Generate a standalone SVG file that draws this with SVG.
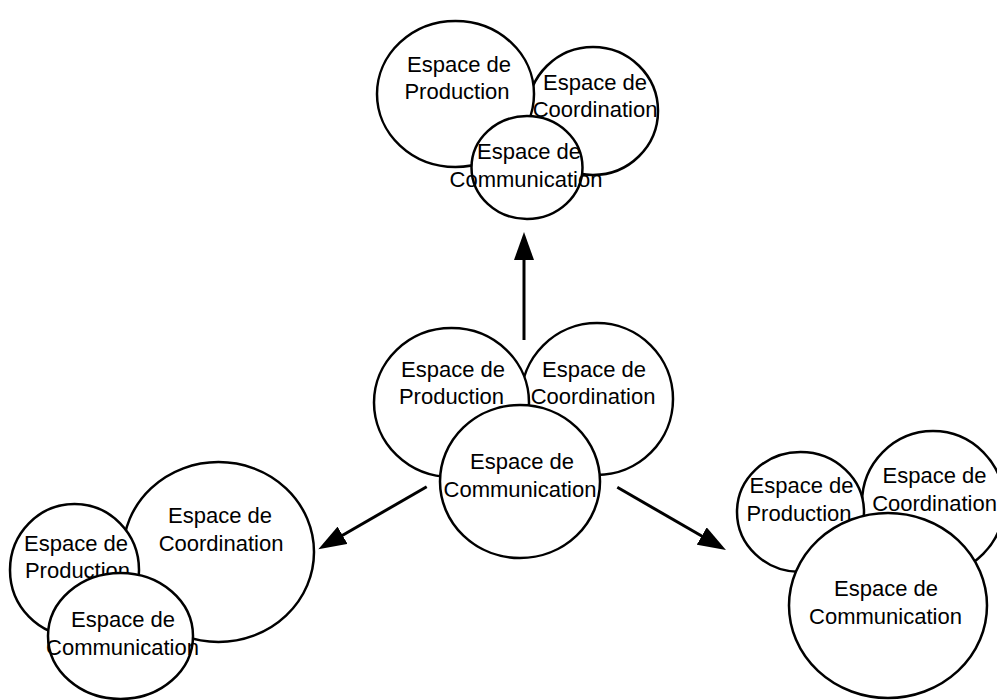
<svg xmlns="http://www.w3.org/2000/svg" width="997" height="700" viewBox="0 0 997 700">
<style>
.c{fill:#fff;stroke:#000;stroke-width:2.5}
text{font-family:"Liberation Sans",Arial,sans-serif;font-size:22px;fill:#000;text-anchor:middle}
.a{stroke:#000;stroke-width:3;fill:none}
</style>
<defs>
<marker id="ah" viewBox="0 0 28 20" refX="18" refY="10" markerWidth="28" markerHeight="20" markerUnits="userSpaceOnUse" orient="auto">
<path d="M0,0 L28,10 L0,20 z" fill="#000"/>
</marker>
</defs>
<rect width="997" height="700" fill="#fff"/>
<g id="connectors">
<line class="a" x1="524" y1="340" x2="524" y2="242" marker-end="url(#ah)"/>
<line class="a" x1="426.7" y1="486.7" x2="327" y2="544.3" marker-end="url(#ah)"/>
<line class="a" x1="617.3" y1="487.3" x2="717.3" y2="545" marker-end="url(#ah)"/>
</g>
<!-- top cluster -->
<g id="top-coordination">
<ellipse class="c" cx="593" cy="111" rx="65" ry="64"/>
<text x="595" y="90">Espace de</text><text x="595" y="117">Coordination</text>
</g>
<g id="top-production">
<ellipse class="c" cx="455.5" cy="94" rx="78.5" ry="73"/>
<text x="459" y="72">Espace de</text><text x="457" y="99">Production</text>
</g>
<g id="top-communication">
<ellipse class="c" cx="527" cy="167.5" rx="55.5" ry="51.5"/>
<text x="529" y="159">Espace de</text><text x="526" y="187">Communication</text>
</g>
<!-- middle cluster -->
<g id="mid-coordination">
<ellipse class="c" cx="597" cy="399" rx="76" ry="76"/>
<text x="594" y="377">Espace de</text><text x="593" y="404">Coordination</text>
</g>
<g id="mid-production">
<ellipse class="c" cx="451.5" cy="402.5" rx="77.5" ry="74.5"/>
<text x="453" y="377">Espace de</text><text x="451.5" y="404">Production</text>
</g>
<g id="mid-communication">
<ellipse class="c" cx="520" cy="481.5" rx="80" ry="76.5"/>
<text x="522" y="469">Espace de</text><text x="520" y="497">Communication</text>
</g>
<!-- left cluster -->
<g id="left-coordination">
<ellipse class="c" cx="218.5" cy="552" rx="95.5" ry="90"/>
<text x="220" y="523">Espace de</text><text x="221" y="551">Coordination</text>
</g>
<g id="left-production">
<ellipse class="c" cx="74.5" cy="570" rx="64.5" ry="66"/>
<text x="76" y="551">Espace de</text><text x="77.5" y="578">Production</text>
</g>
<g id="left-communication">
<ellipse class="c" cx="120.5" cy="636" rx="72.5" ry="63"/>
<text x="123" y="627">Espace de</text><text x="122.5" y="655">Communication</text>
</g>
<!-- right cluster -->
<g id="right-coordination">
<ellipse class="c" cx="933" cy="503" rx="71" ry="72"/>
<text x="934.5" y="483">Espace de</text><text x="934.5" y="511">Coordination</text>
</g>
<g id="right-production">
<ellipse class="c" cx="800.5" cy="512" rx="63.5" ry="60"/>
<text x="801.5" y="493">Espace de</text><text x="799" y="521">Production</text>
</g>
<g id="right-communication">
<ellipse class="c" cx="888" cy="605.5" rx="99" ry="92.5"/>
<text x="886" y="596">Espace de</text><text x="885.5" y="624">Communication</text>
</g>
</svg>
